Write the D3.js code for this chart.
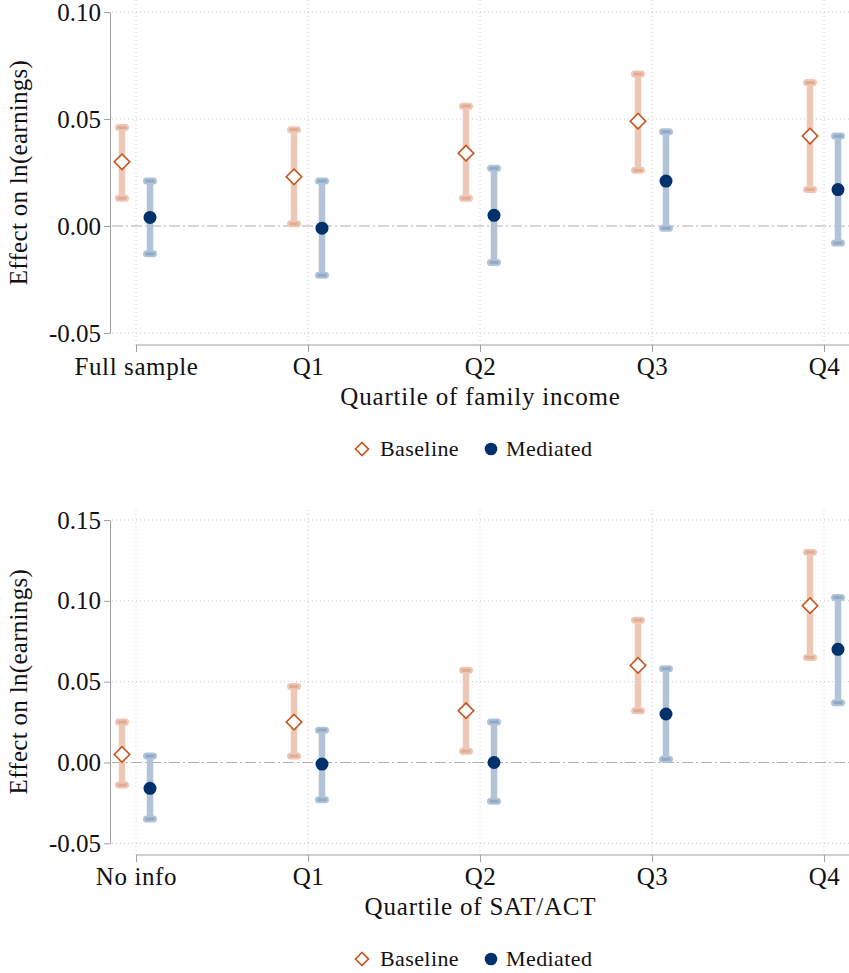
<!DOCTYPE html>
<html>
<head>
<meta charset="utf-8">
<script src="https://cdn.jsdelivr.net/npm/d3@7"></script>
<style>
  html, body { margin: 0; padding: 0; background: #fff; }
  svg { display: block; }
  text { font-family: "Palatino Linotype", "Book Antiqua", Palatino, "Liberation Serif", serif; fill: #111; }
</style>
</head>
<body>
<svg id="chart" width="849" height="973"></svg>
<script>
// ---------------- DATA ----------------
const seriesNames = ["Baseline", "Mediated"];

const topCategories = ["Full sample", "Q1", "Q2", "Q3", "Q4"];
const topBaseline   = [0.030, 0.023, 0.034, 0.049, 0.042];
const topBaselineLo = [0.013, 0.001, 0.013, 0.026, 0.017];
const topBaselineHi = [0.046, 0.045, 0.056, 0.071, 0.067];
const topMediated   = [0.004, -0.001, 0.005, 0.021, 0.017];
const topMediatedLo = [-0.013, -0.023, -0.017, -0.001, -0.008];
const topMediatedHi = [0.021, 0.021, 0.027, 0.044, 0.042];
const topYTicks = [-0.05, 0.00, 0.05, 0.10];
const topXTitle = "Quartile of family income";

const bottomCategories = ["No info", "Q1", "Q2", "Q3", "Q4"];
const bottomBaseline   = [0.005, 0.025, 0.032, 0.060, 0.097];
const bottomBaselineLo = [-0.014, 0.004, 0.007, 0.032, 0.065];
const bottomBaselineHi = [0.025, 0.047, 0.057, 0.088, 0.130];
const bottomMediated   = [-0.016, -0.001, 0.000, 0.030, 0.070];
const bottomMediatedLo = [-0.035, -0.023, -0.024, 0.002, 0.037];
const bottomMediatedHi = [0.004, 0.020, 0.025, 0.058, 0.102];
const bottomYTicks = [-0.05, 0.00, 0.05, 0.10, 0.15];
const bottomXTitle = "Quartile of SAT/ACT";

const yTitle = "Effect on ln(earnings)";

// ---------------- STYLE ----------------
const colors = {
  Baseline: { marker: "#C4561F", bar: "#EEC8B6", cap: "#E0AB91" },
  Mediated: { marker: "#00316B", bar: "#B1C3D7", cap: "#8FA8C4" }
};
const gridColor = "#c8c8c8";
const axisColor = "#a0a0a0";

const svg = d3.select("#chart");
const plotLeft = 112, plotRight = 849;
const seriesOffset = d3.scaleOrdinal(seriesNames, [-14, 14]);

function drawPanel(cfg) {
  const g = svg.append("g");
  const x = d3.scalePoint(cfg.categories, [136, 824]);
  const y = d3.scaleLinear(cfg.yDomain, cfg.yRange);

  // grid: horizontal
  g.append("g").selectAll("line").data(cfg.yTicks.filter(d => d !== 0)).join("line")
    .attr("x1", plotLeft).attr("x2", plotRight)
    .attr("y1", d => y(d)).attr("y2", d => y(d))
    .attr("stroke", gridColor).attr("stroke-width", 1)
    .attr("stroke-dasharray", "1,3");
  // grid: vertical
  g.append("g").selectAll("line").data(cfg.categories).join("line")
    .attr("x1", d => x(d)).attr("x2", d => x(d))
    .attr("y1", cfg.plotTop).attr("y2", cfg.xAxisY)
    .attr("stroke", gridColor).attr("stroke-width", 1)
    .attr("stroke-dasharray", "1,3");

  // zero line
  g.append("line")
    .attr("x1", plotLeft).attr("x2", plotRight)
    .attr("y1", y(0)).attr("y2", y(0))
    .attr("stroke", "#b0b0b0").attr("stroke-width", 1.2)
    .attr("stroke-dasharray", "11,3,2,3");

  // y axis
  const yAxis = g.append("g").attr("transform", "translate(110,0)")
    .call(d3.axisLeft(y).tickValues(cfg.yTicks).tickSize(6).tickSizeOuter(0).tickPadding(3)
      .tickFormat(d => d.toFixed(2)));
  yAxis.selectAll("path, line").attr("stroke", axisColor);
  yAxis.selectAll("text").style("font-size", "25px").attr("fill", "#111")
    .style("font-family", "'Liberation Serif', serif");

  // x axis
  const xAxis = g.append("g").attr("transform", `translate(0,${cfg.xAxisY})`)
    .call(d3.axisBottom(x).tickSize(7).tickSizeOuter(0).tickPadding(5));
  xAxis.select(".domain").remove();
  xAxis.append("line").attr("x1", x(cfg.categories[0])).attr("x2", plotRight)
    .attr("y1", 0).attr("y2", 0).attr("stroke", axisColor);
  xAxis.selectAll("line").attr("stroke", axisColor);
  xAxis.selectAll("text").style("font-size", "25px").attr("fill", "#111")
    .style("letter-spacing", "0.6px");

  // axis titles
  g.append("text")
    .attr("transform", `translate(27,${(cfg.yRange[0] + cfg.yRange[1]) / 2}) rotate(-90)`)
    .attr("text-anchor", "middle").style("font-size", "25px").style("letter-spacing", "0.3px")
    .text(yTitle);
  g.append("text")
    .attr("x", (plotLeft + plotRight) / 2).attr("y", cfg.xAxisY + 60)
    .attr("text-anchor", "middle").style("font-size", "25px").style("letter-spacing", "0.8px")
    .text(cfg.xTitle);

  // series data
  const series = [
    { name: "Baseline", est: cfg.baseline, lo: cfg.baselineLo, hi: cfg.baselineHi },
    { name: "Mediated", est: cfg.mediated, lo: cfg.mediatedLo, hi: cfg.mediatedHi }
  ];
  series.forEach(s => {
    const pts = cfg.categories.map((c, i) => ({ c, est: s.est[i], lo: s.lo[i], hi: s.hi[i] }));
    const cx = d => x(d.c) + seriesOffset(s.name);
    const col = colors[s.name];
    const sg = g.append("g");
    // bars
    sg.selectAll("line.bar").data(pts).join("line").attr("class", "bar")
      .attr("x1", cx).attr("x2", cx)
      .attr("y1", d => y(d.lo)).attr("y2", d => y(d.hi))
      .attr("stroke", col.bar).attr("stroke-width", 6.5);
    // caps (outer halo + darker core)
    ["lo", "hi"].forEach(k => {
      sg.selectAll(`line.caph${k}`).data(pts).join("line").attr("class", `caph${k}`)
        .attr("x1", d => cx(d) - 3.5).attr("x2", d => cx(d) + 3.5)
        .attr("y1", d => y(d[k])).attr("y2", d => y(d[k]))
        .attr("stroke", col.bar).attr("stroke-width", 7).attr("stroke-linecap", "round");
      sg.selectAll(`line.capc${k}`).data(pts).join("line").attr("class", `capc${k}`)
        .attr("x1", d => cx(d) - 4.5).attr("x2", d => cx(d) + 4.5)
        .attr("y1", d => y(d[k])).attr("y2", d => y(d[k]))
        .attr("stroke", col.cap).attr("stroke-width", 3);
    });
    // markers
    if (s.name === "Baseline") {
      sg.selectAll("path.mk").data(pts).join("path").attr("class", "mk")
        .attr("d", d3.symbol(d3.symbolSquare, 120)())
        .attr("transform", d => `translate(${cx(d)},${y(d.est)}) rotate(45)`)
        .attr("fill", "#fff").attr("stroke", col.marker).attr("stroke-width", 1.6);
    } else {
      sg.selectAll("circle.mk").data(pts).join("circle").attr("class", "mk")
        .attr("cx", cx).attr("cy", d => y(d.est)).attr("r", 6.5)
        .attr("fill", col.marker);
    }
  });

  // legend
  const ly = cfg.xAxisY + 104;
  const lg = g.append("g");
  lg.append("path").attr("d", d3.symbol(d3.symbolSquare, 85)())
    .attr("transform", `translate(362,${ly}) rotate(45)`)
    .attr("fill", "#fff").attr("stroke", colors.Baseline.marker).attr("stroke-width", 1.6);
  lg.append("text").attr("x", 380).attr("y", ly + 7).style("font-size", "22px")
    .style("letter-spacing", "0.4px").text(seriesNames[0]);
  lg.append("circle").attr("cx", 491).attr("cy", ly).attr("r", 6.3)
    .attr("fill", colors.Mediated.marker);
  lg.append("text").attr("x", 506).attr("y", ly + 7).style("font-size", "22px")
    .style("letter-spacing", "0.4px").text(seriesNames[1]);
}

drawPanel({
  categories: topCategories, yTicks: topYTicks, xTitle: topXTitle,
  yDomain: [-0.05, 0.10], yRange: [333, 12], plotTop: 0, xAxisY: 345,
  baseline: topBaseline, baselineLo: topBaselineLo, baselineHi: topBaselineHi,
  mediated: topMediated, mediatedLo: topMediatedLo, mediatedHi: topMediatedHi
});
drawPanel({
  categories: bottomCategories, yTicks: bottomYTicks, xTitle: bottomXTitle,
  yDomain: [-0.05, 0.15], yRange: [843.3, 520], plotTop: 510, xAxisY: 855,
  baseline: bottomBaseline, baselineLo: bottomBaselineLo, baselineHi: bottomBaselineHi,
  mediated: bottomMediated, mediatedLo: bottomMediatedLo, mediatedHi: bottomMediatedHi
});
</script>
</body>
</html>
